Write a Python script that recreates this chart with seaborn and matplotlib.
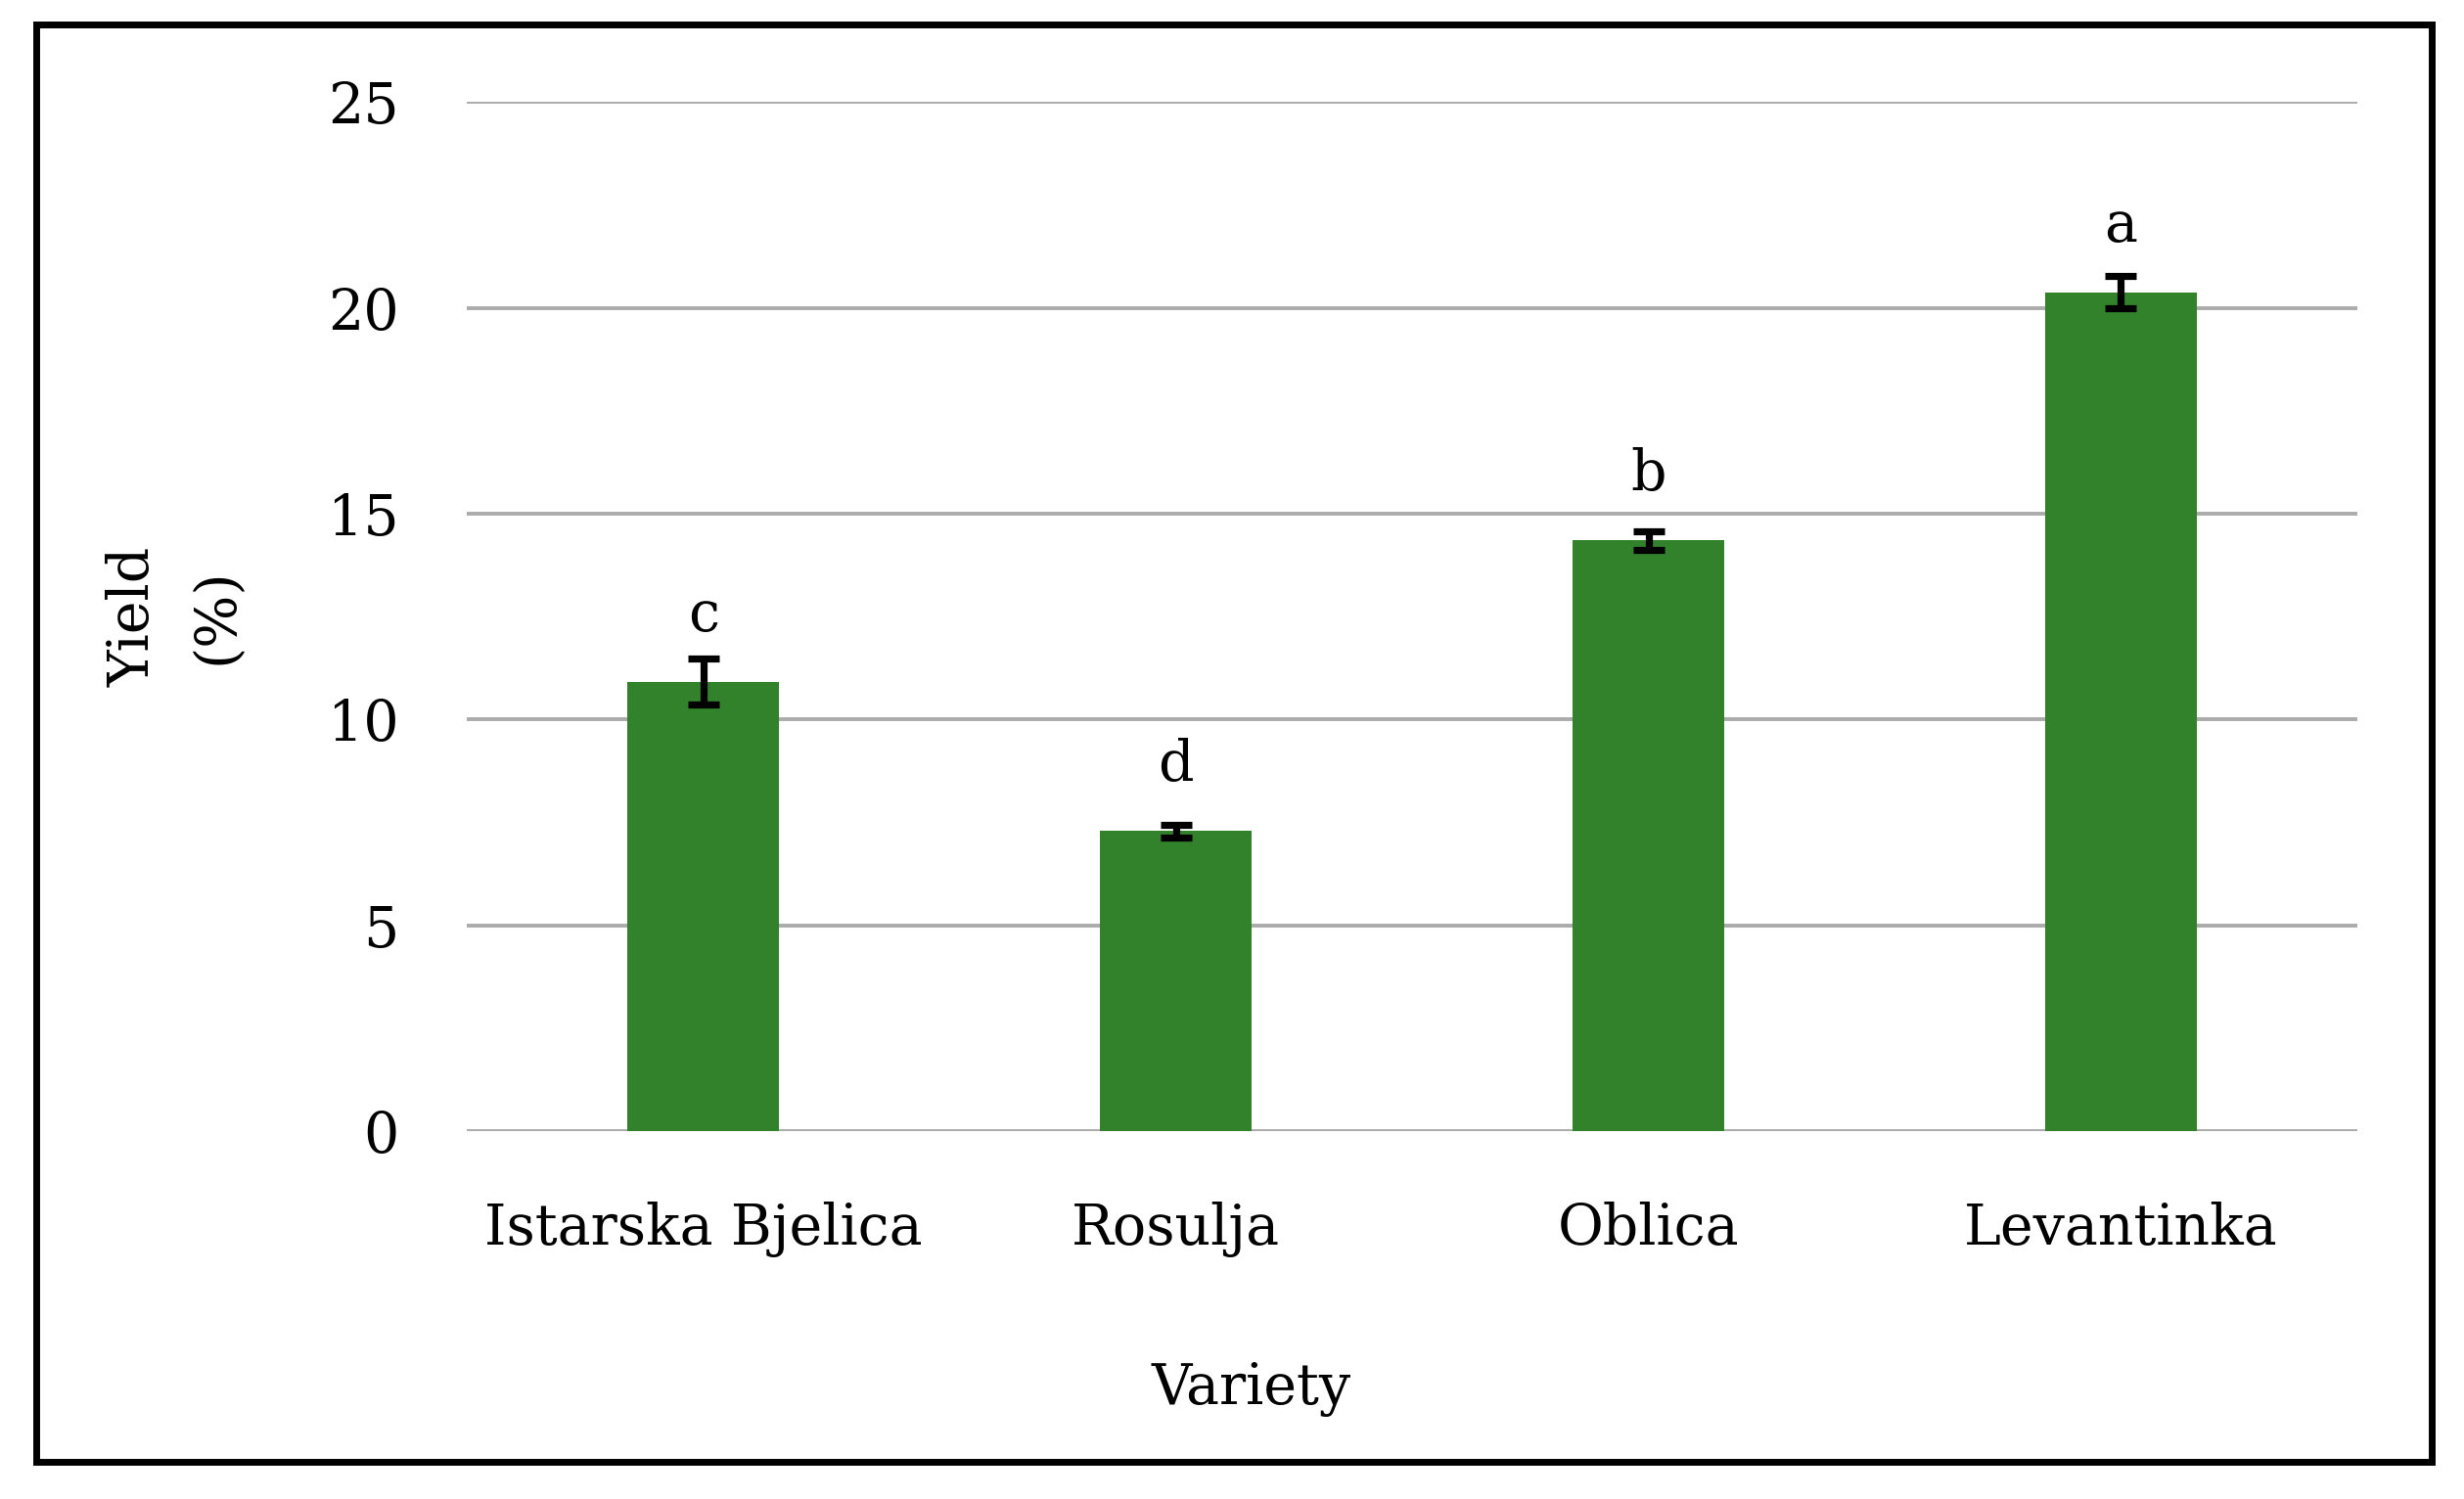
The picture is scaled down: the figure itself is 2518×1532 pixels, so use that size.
import matplotlib
matplotlib.use("Agg")
import matplotlib.pyplot as plt
import seaborn as sns
import pandas as pd
from matplotlib.patches import Rectangle

varieties = ["Istarska Bjelica", "Rosulja", "Oblica", "Levantinka"]
yield_pct = [10.92, 7.29, 14.35, 20.38]
yield_err = [0.55, 0.16, 0.22, 0.40]
letters = ["c", "d", "b", "a"]
y_ticks = [0, 5, 10, 15, 20, 25]

df = pd.DataFrame({"Variety": varieties, "Yield": yield_pct})

sns.set_theme(style="white")
plt.rcParams["font.family"] = ["DejaVu Serif"]

fig = plt.figure(figsize=(12.59, 7.66), dpi=200)
ax = fig.add_axes([0.1895, 0.2454, 0.9567 - 0.1895, 0.932 - 0.2454])

sns.barplot(data=df, x="Variety", y="Yield", color="#31822b", saturation=1,
            width=0.32, errorbar=None, ax=ax, zorder=3)
for p in ax.patches:
    p.set_edgecolor("none")

xs = list(range(len(varieties)))
ax.errorbar(xs, yield_pct, yerr=yield_err, fmt="none", ecolor="black",
            elinewidth=2.6, capsize=5.7, capthick=2.6, zorder=4)

for x, v, l in zip(xs, yield_pct, letters):
    ax.annotate(l, (x, v), xytext=(0, 18.5), textcoords="offset points",
                ha="center", va="baseline", fontsize=20.5, color="black")

ax.set_xlim(-0.5, 3.5)
ax.set_ylim(0, 25)
ax.set_yticks(y_ticks)
ax.yaxis.grid(True, color="#ababab", linewidth=1.4, zorder=0)
ax.set_axisbelow(True)
for s in ax.spines.values():
    s.set_visible(False)
ax.tick_params(axis="y", length=0, pad=25, labelsize=20.5, colors="black")
ax.tick_params(axis="x", length=0, pad=26, labelsize=20.5, colors="black")
ax.set_xlabel("Variety", fontsize=20.5, color="black")
ax.xaxis.set_label_coords(0.415, -0.224)
ax.set_ylabel("Yield\n(%)", fontsize=20.5, color="black", linespacing=1.65)
ax.yaxis.set_label_coords(-0.118, 0.5)

fig.patches.append(Rectangle((0.0145, 0.025), 0.9725, 0.959,
                             transform=fig.transFigure, fill=False,
                             edgecolor="black", linewidth=2.5, zorder=10))

fig.savefig("out.png", dpi=200, facecolor="white")
